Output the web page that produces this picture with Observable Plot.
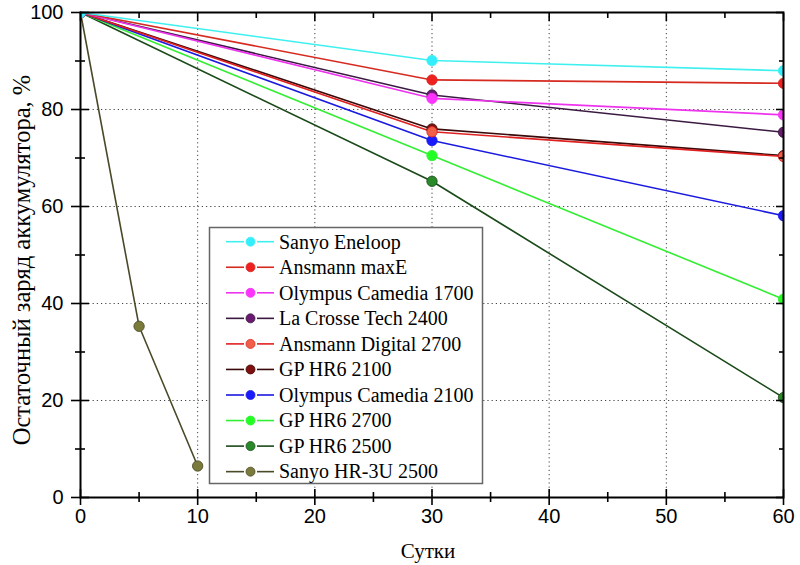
<!DOCTYPE html>
<html><head><meta charset="utf-8">
<script src="https://cdn.jsdelivr.net/npm/d3@7"></script>
<script src="https://cdn.jsdelivr.net/npm/@observablehq/plot@0.6"></script>
<style>
body{margin:0;background:#fff;}
#wrap{position:relative;width:800px;height:565px;overflow:hidden;}
#legend{position:absolute;left:0;top:0;}
</style></head><body><div id="wrap"></div>
<script>
// ---- data ----
const seriesNames = ["Sanyo Eneloop","Ansmann maxE","Olympus Camedia 1700","La Crosse Tech 2400","Ansmann Digital 2700","GP HR6 2100","Olympus Camedia 2100","GP HR6 2700","GP HR6 2500","Sanyo HR-3U 2500"];
const days = [0, 30, 60];
const daysHR3U = [0, 5, 10];
const sanyoEneloop = [100, 90.1, 88.0];
const ansmannMaxE = [100, 86.1, 85.4];
const olympus1700 = [100, 82.3, 78.9];
const laCrosse2400 = [100, 83.0, 75.3];
const ansmannDigital2700 = [100, 75.4, 70.3];
const gpHR6_2100 = [100, 76.0, 70.5];
const olympus2100 = [100, 73.6, 58.1];
const gpHR6_2700 = [100, 70.5, 40.9];
const gpHR6_2500 = [100, 65.2, 20.6];
const sanyoHR3U = [100, 35.3, 6.5];
const lineColors = ["#3ff0f0","#d62a20","#ee33ee","#3a1a40","#e02020","#3a0a0a","#1a1ae0","#33ee33","#1a4a1a","#4a4a2a"];
const dotColors  = ["#33eeff","#ee2020","#ff33ff","#6a1a70","#f06048","#801010","#1a1aff","#22ff22","#2a8a2a","#7a7a3a"];
const xMajor = [0,10,20,30,40,50,60];
const xMinor = [5,15,25,35,45,55];
const yMajor = [0,20,40,60,80,100];
const yMinor = [10,30,50,70,90];
const xTitle = "Сутки";
const yTitle = "Остаточный заряд аккумулятора, %";

const seriesValues = [sanyoEneloop, ansmannMaxE, olympus1700, laCrosse2400, ansmannDigital2700, gpHR6_2100, olympus2100, gpHR6_2700, gpHR6_2500, sanyoHR3U];
const seriesDays = seriesNames.map((n,i) => i === 9 ? daysHR3U : days);

const table = [];
for (let i = seriesNames.length - 1; i >= 0; i--) {
  seriesValues[i].forEach((v, j) => table.push({name: seriesNames[i], day: seriesDays[i][j], value: v, line: lineColors[i], dot: dotColors[i]}));
}

const serif = "Liberation Serif, Times New Roman, serif";
const sans = "Liberation Sans, Arial, sans-serif";

const chart = Plot.plot({
  width: 800, height: 565,
  marginLeft: 80, marginRight: 17, marginTop: 12, marginBottom: 68,
  x: {domain: [0, 60]},
  y: {domain: [0, 100]},
  color: {type: "identity"},
  marks: [
    Plot.gridX({ticks: [10,20,30,40,50], stroke: "#444", strokeOpacity: 1, strokeDasharray: "1.2,3"}),
    Plot.gridY({ticks: [20,40,60,80], stroke: "#444", strokeOpacity: 1, strokeDasharray: "1.2,3"}),
    Plot.line(table, {x: "day", y: "value", z: "name", stroke: "line", strokeWidth: 1.6}),
    Plot.dot(table, {x: "day", y: "value", fill: "dot", stroke: "line", strokeWidth: 0.8, r: 5.2, clip: true}),
    Plot.frame({stroke: "#000", strokeWidth: 2}),
    // bottom axis
    Plot.axisX({anchor: "bottom", ticks: xMajor, tickSize: 16, dy: -8, text: null, label: null, strokeWidth: 1.6}),
    Plot.axisX({anchor: "bottom", ticks: xMinor, tickSize: 10, dy: -5, text: null, label: null, strokeWidth: 1.6}),
    Plot.axisX({anchor: "bottom", ticks: xMajor, tickSize: 0, tickPadding: 11, label: null, fontSize: 20, fontFamily: sans, fill: "#000"}),
    // top axis
    Plot.axisX({anchor: "top", ticks: xMajor, tickSize: 8, dy: 8, text: null, label: null, strokeWidth: 1.6}),
    Plot.axisX({anchor: "top", ticks: xMinor, tickSize: 5, dy: 5, text: null, label: null, strokeWidth: 1.6}),
    // left axis
    Plot.axisY({anchor: "left", ticks: yMajor, tickSize: 18, dx: 9, text: null, label: null, strokeWidth: 1.6}),
    Plot.axisY({anchor: "left", ticks: yMinor, tickSize: 10, dx: 5, text: null, label: null, strokeWidth: 1.6}),
    Plot.axisY({anchor: "left", ticks: yMajor, tickSize: 0, tickPadding: 17, label: null, fontSize: 20, fontFamily: sans, fill: "#000"}),
    // right axis
    Plot.axisY({anchor: "right", ticks: yMajor, tickSize: 8, dx: -8, text: null, label: null, strokeWidth: 1.6}),
    Plot.axisY({anchor: "right", ticks: yMinor, tickSize: 5, dx: -5, text: null, label: null, strokeWidth: 1.6}),
    // titles
    Plot.text([xTitle], {text: d => d, frameAnchor: "bottom", dx: -4, dy: 54, fontSize: 21, fontFamily: serif, fill: "#000", textAnchor: "middle", lineAnchor: "middle"}),
    Plot.text([yTitle], {text: d => d, frameAnchor: "left", dx: -58, dy: 5, rotate: -90, fontSize: 24.5, fontFamily: serif, fill: "#000", textAnchor: "middle", lineAnchor: "middle"})
  ]
});
const wrap = document.getElementById("wrap");
wrap.appendChild(chart);

// legend overlay
const lg = d3.select(wrap).append("svg").attr("id", "legend").attr("width", 800).attr("height", 565);
lg.append("rect").attr("x", 209.5).attr("y", 227.5).attr("width", 273).attr("height", 256)
  .attr("fill", "#fff").attr("stroke", "#666").attr("stroke-width", 1.5);
const rows = lg.selectAll("g.row").data(seriesNames).join("g")
  .attr("transform", (d, i) => `translate(0,${241.7 + i * 25.55})`);
rows.append("line").attr("x1", 226).attr("x2", 244).attr("stroke", (d, i) => lineColors[i]).attr("stroke-width", 1.6);
rows.append("line").attr("x1", 257).attr("x2", 274).attr("stroke", (d, i) => lineColors[i]).attr("stroke-width", 1.6);
rows.append("circle").attr("cx", 250.5).attr("r", 4.5).attr("fill", (d, i) => dotColors[i]).attr("stroke", (d, i) => lineColors[i]).attr("stroke-width", 0.8);
rows.append("text").attr("x", 279).attr("dy", "0.34em").attr("font-family", serif).attr("font-size", 20).attr("fill", "#000").text(d => d);
</script></body></html>
